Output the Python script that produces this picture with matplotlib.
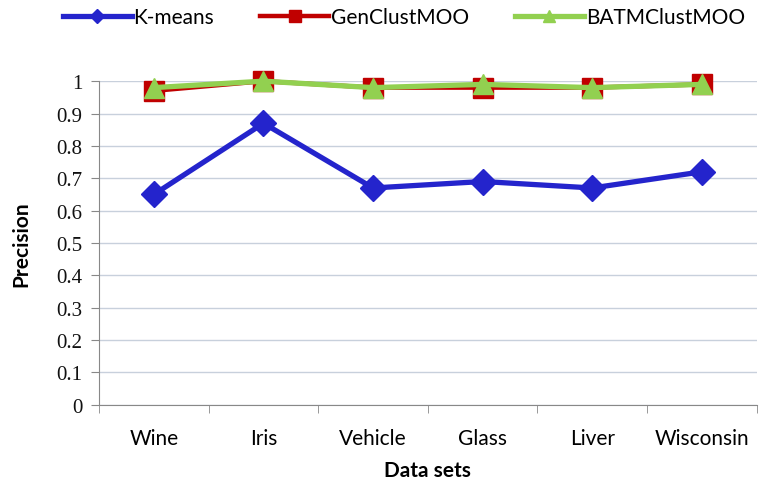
import matplotlib
matplotlib.use("Agg")
import matplotlib.pyplot as plt
import numpy as np

datasets = ["Wine", "Iris", "Vehicle", "Glass", "Liver", "Wisconsin"]
kmeans = [0.65, 0.87, 0.67, 0.69, 0.67, 0.72]
genclust = [0.97, 1.00, 0.98, 0.98, 0.98, 0.99]
batmclust = [0.98, 1.00, 0.98, 0.99, 0.98, 0.99]
yticks = [0, 0.1, 0.2, 0.3, 0.4, 0.5, 0.6, 0.7, 0.8, 0.9, 1]

sans = ["Lato", "DejaVu Sans"]
serif = ["Liberation Serif", "DejaVu Serif"]

fig = plt.figure(figsize=(7.62, 4.89), dpi=100)
ax = fig.add_axes([0.130, 0.170, 0.863, 0.662])

x = np.arange(len(datasets))
ax.plot(x, kmeans, color="#2424cc", lw=3.8, marker="D", ms=13,
        label="K-means", clip_on=False, zorder=3)
ax.plot(x, genclust, color="#c00000", lw=3.2, marker="s", ms=15,
        label="GenClustMOO", clip_on=False, zorder=4)
ax.plot(x, batmclust, color="#92d050", lw=3.8, marker="^", ms=15,
        label="BATMClustMOO", clip_on=False, zorder=5)

ax.set_xlim(-0.5, len(datasets) - 0.5)
ax.set_ylim(0, 1)
ax.set_yticks(yticks)
ax.set_yticklabels([f"{v:g}" for v in yticks], fontfamily=serif, fontsize=15,
                   color="#111111")
ax.set_xticks(x)
ax.set_xticklabels(datasets, fontfamily=sans, fontsize=15)
ax.set_xticks(np.arange(-0.5, len(datasets)), minor=True)
ax.tick_params(axis="x", which="major", length=0, pad=17)
ax.tick_params(axis="x", which="minor", length=6, color="#888888")
ax.tick_params(axis="y", length=6, color="#888888", pad=6)

ax.grid(axis="y", color="#c8d0dc", lw=1)
ax.set_axisbelow(True)
for side in ["top", "right"]:
    ax.spines[side].set_visible(False)
for side in ["left", "bottom"]:
    ax.spines[side].set_color("#888888")

ax.set_ylabel("Precision", fontfamily=sans, fontsize=15, fontweight="bold", labelpad=18)
ax.set_xlabel("Data sets", fontfamily=sans, fontsize=15, fontweight="bold", labelpad=8)

fig.legend(loc="center", bbox_to_anchor=(0.53, 0.963), ncol=3, frameon=False,
           prop={"family": sans, "size": 15}, handlelength=3.3, markerscale=0.55,
           columnspacing=2.2, handletextpad=0.1)

fig.savefig("out.png", dpi=100)
